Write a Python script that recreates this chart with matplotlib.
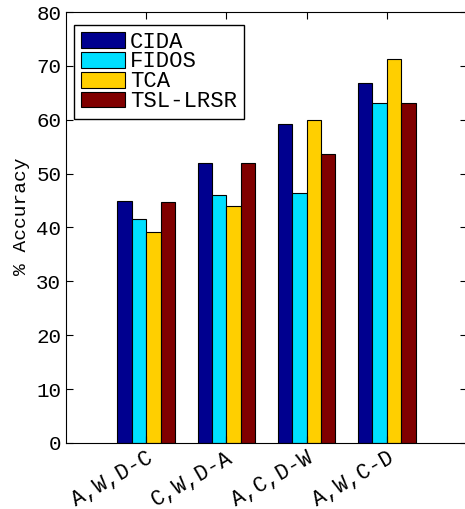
import matplotlib.pyplot as plt
import numpy as np

# accuracy per task and method
tasks = ['A,W,D-C', 'C,W,D-A', 'A,C,D-W', 'A,W,C-D']
methods = ['CIDA', 'FIDOS', 'TCA', 'TSL-LRSR']
cida = [45.0, 52.0, 59.3, 66.9]
fidos = [41.6, 46.0, 46.4, 63.1]
tca = [39.2, 44.0, 59.9, 71.2]
tsl_lrsr = [44.8, 52.0, 53.6, 63.1]
colors = ['#00008F', '#00DFFF', '#FFCF00', '#800000']

plt.rcParams['font.family'] = ['Liberation Mono', 'DejaVu Sans Mono']
plt.rcParams['font.size'] = 15

fig = plt.figure(figsize=(4.65, 5.09), dpi=100)
ax = fig.add_axes([0.142, 0.1297, 0.862, 0.8467])

x = np.arange(1, len(tasks) + 1)
w = 0.18
for i, (vals, name) in enumerate(zip([cida, fidos, tca, tsl_lrsr], methods)):
    ax.bar(x + (i - 1.5) * w, vals, w, color=colors[i], edgecolor='black',
           linewidth=0.8, label=name)

ax.set_xlim(0, 5)
ax.set_ylim(0, 80)
ax.set_yticks(range(0, 81, 10))
ax.set_xticks(x)
ax.set_xticklabels(tasks, rotation=30, ha='right', va='top',
                   rotation_mode='anchor', fontsize=15.5)
ax.set_ylabel('% Accuracy', fontsize=14)
ax.yaxis.set_label_coords(-0.09, 0.527)
ax.tick_params(direction='in', top=True, right=True, length=5)
ax.tick_params(axis='x', pad=3)

leg = ax.legend(loc='upper left', bbox_to_anchor=(0.02, 0.97), fancybox=False,
                edgecolor='black', framealpha=1, fontsize=16, handlelength=2.0,
                handleheight=0.72, labelspacing=-0.05, borderpad=0.3,
                handletextpad=0.22, borderaxespad=0)
leg.get_frame().set_linewidth(1.0)

fig.savefig('out.png', dpi=100)
